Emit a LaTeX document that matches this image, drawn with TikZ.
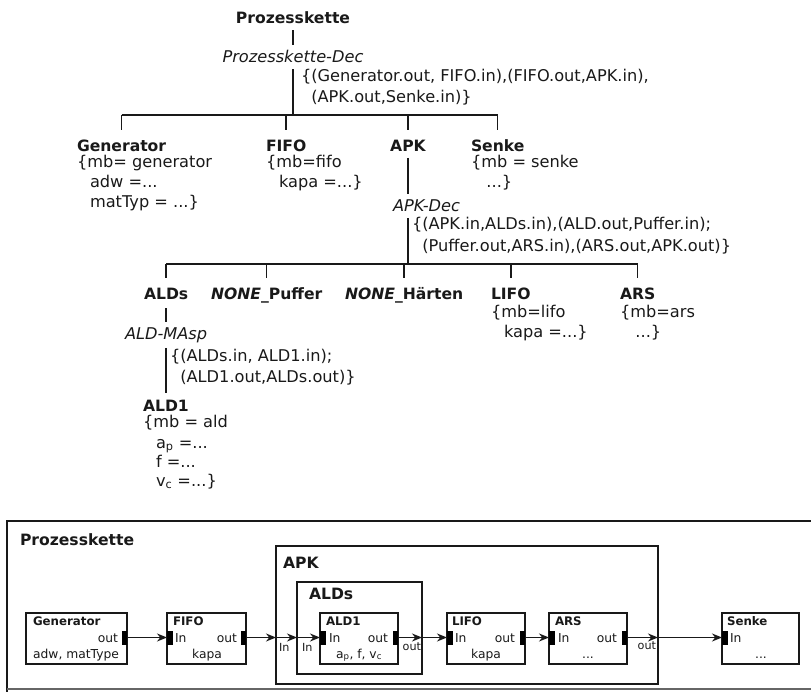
\documentclass[tikz,border=0pt]{standalone}
\usepackage{fontspec}
\setmainfont{DejaVu Sans}
\usetikzlibrary{arrows.meta}
\newcommand{\fsbig}{\fontsize{16.2}{20}\selectfont}
\newcommand{\fsbold}{\fontsize{15.6}{20}\selectfont\bfseries}
\newcommand{\fssmall}{\fontsize{12.3}{14}\selectfont}
\newcommand{\fssmallb}{\fontsize{11.8}{14}\selectfont\bfseries}
\newcommand{\fstiny}{\fontsize{11.2}{13}\selectfont}
\newcommand{\ph}{\phantom{\{}}
\tikzset{
  t/.style={anchor=base west, inner sep=0pt, outer sep=0pt, font=\fsbig, text=black!90},
  tb/.style={t, font=\fsbold},
  ti/.style={t, font=\fsbig\itshape},
  tl/.style={line width=1.5pt, black!90},
  st/.style={anchor=base west, inner sep=0pt, outer sep=0pt, font=\fssmall, text=black!90},
  stb/.style={st, font=\fssmallb},
  sx/.style={anchor=base west, inner sep=0pt, outer sep=0pt, font=\fstiny, text=black!90},
  blk/.style={draw=black!90, line width=1.7pt, inner sep=0pt, outer sep=0pt, minimum height=51pt, minimum width=78pt},
  frame/.style={draw=black!90, line width=1.7pt, inner sep=0pt, outer sep=0pt},
  port/.style={fill=black, draw=none, inner sep=0pt, outer sep=0pt, minimum width=5.5pt, minimum height=14pt},
  arr/.style={line width=1.6pt, black!90, -{Stealth[length=10pt,width=8pt]}}
}
\begin{document}
\begin{tikzpicture}[x=1pt,y=-1pt]
\useasboundingbox (0,0) rectangle (811,692);
% ---------------- tree ----------------
\node[tb, anchor=base] (root) at (293,24) {Prozesskette};
\node[ti, anchor=base] (rdec) at (293,63) {Prozesskette-Dec};
\node[t] (rc1) at (301,82) {\{(Generator.out, FIFO.in),(FIFO.out,APK.in),};
\node[t] (rc2) at (301,103) {\ph(APK.out,Senke.in)\}};
\node[tb] (gen) at (77,152) {Generator};
\node[t] (gen1) at (77,168) {\{mb= generator};
\node[t] (gen2) at (77,188) {\ph\,adw =...};
\node[t] (gen3) at (77,208) {\ph\,matTyp = ...\}};
\node[tb] (fifo) at (266,152) {FIFO};
\node[t] (fifo1) at (266,168) {\{mb=fifo};
\node[t] (fifo2) at (266,188) {\ph\,kapa =...\}};
\node[tb, anchor=base] (apk) at (408,152) {APK};
\node[tb] (senke) at (471,152) {Senke};
\node[t] (senke1) at (471,168) {\{mb = senke};
\node[t] (senke2) at (471,188) {\ph\ ...\}};
\node[ti] (apkdec) at (393,212) {APK-Dec};
\node[t] (ac1) at (412,230) {\{(APK.in,ALDs.in),(ALD.out,Puffer.in);};
\node[t] (ac2) at (412,252) {\ph(Puffer.out,ARS.in),(ARS.out,APK.out)\}};
\node[tb] (alds) at (144,300) {ALDs};
\node[tb] (np) at (211,300) {\textit{NONE}\_Puffer};
\node[tb] (nh) at (345,300) {\textit{NONE}\_Härten};
\node[tb] (lifo) at (491,300) {LIFO};
\node[t] (lifo1) at (491,318) {\{mb=lifo};
\node[t] (lifo2) at (491,338) {\ph\,kapa =...\}};
\node[tb] (ars) at (620,300) {ARS};
\node[t] (ars1) at (620,318) {\{mb=ars};
\node[t] (ars2) at (620,338) {\ph\ ...\}};
\node[ti] (aldmasp) at (125,340) {ALD-MAsp};
\node[t] (mc1) at (170,362) {\{(ALDs.in, ALD1.in);};
\node[t] (mc2) at (170,383) {\ph(ALD1.out,ALDs.out)\}};
\node[tb] (ald1) at (143,411) {ALD1};
\node[t] (ald1a) at (143,427) {\{mb = ald};
\node[t] (ald1b) at (143,448) {\ph\,a\textsubscript{p} =...};
\node[t] (ald1c) at (143,467) {\ph\,f =...};
\node[t] (ald1d) at (143,486) {\ph\,v\textsubscript{c} =...\}};
% tree lines
\coordinate (bar1) at (295,115);
\coordinate (bar2) at (408,264);
\draw[tl] ([yshift=-6pt]root.south) -- ([yshift=6pt]root.south |- rdec.north);
\draw[tl] ([yshift=-6pt]rdec.south) -- (rdec.south |- bar1);
\draw[tl] (gen.north |- bar1) -- (senke.north |- bar1);
\foreach \n in {gen,fifo,apk,senke} \draw[tl] (\n.north |- bar1) -- ++(0,15);
\draw[tl] ([yshift=-6pt]apk.south) -- ([yshift=6pt]apk.south |- apkdec.north);
\draw[tl] ([yshift=-6pt]apk.south |- apkdec.south) -- (apk.south |- bar2);
\draw[tl] (alds.north |- bar2) -- (ars.north |- bar2);
\foreach \n in {alds,np,nh,lifo,ars} \draw[tl] (\n.north |- bar2) -- ++(0,14);
\draw[tl] ([yshift=-8pt]alds.south) -- ([yshift=6pt]alds.south |- aldmasp.north);
\draw[tl] ([yshift=-4.5pt]ald1.north |- aldmasp.south) -- ([yshift=7pt]ald1.north);
% ---------------- block diagram ----------------
\draw[line width=1.6pt, black!90] (811,521) -- (7,521) -- (7,692);
\draw[line width=1.2pt, black!60] (7,689) -- (811,689);
\node[frame, minimum width=382pt, minimum height=138pt] (apkB) at (467,615) {};
\node[frame, minimum width=125pt, minimum height=92pt] (aldsB) at (359.5,628) {};
\node[tb] (pkT) at (20,545) {Prozesskette};
\node[tb] (apkT) at (283,568) {APK};
\node[tb] (aldsT) at (309,599) {ALDs};
\node[blk, minimum width=101pt] (gB) at (76.5,638.5) {};
\node[blk, minimum width=79pt] (fB) at (206.5,638.5) {};
\node[blk] (aB) at (359,638.5) {};
\node[blk] (lB) at (486,638.5) {};
\node[blk] (rB) at (588,638.5) {};
\node[blk, minimum width=77pt] (sB) at (760.5,638.5) {};
% ports
\node[port, anchor=east] (gOut) at ([yshift=1pt]gB.east) {};
\node[port, anchor=west] (fIn) at ([yshift=1pt]fB.west) {};
\node[port, anchor=east] (fOut) at ([yshift=1pt]fB.east) {};
\node[port, anchor=west] (aIn) at ([yshift=1pt]aB.west) {};
\node[port, anchor=east] (aOut) at ([yshift=1pt]aB.east) {};
\node[port, anchor=west] (lIn) at ([yshift=1pt]lB.west) {};
\node[port, anchor=east] (lOut) at ([yshift=1pt]lB.east) {};
\node[port, anchor=west] (rIn) at ([yshift=1pt]rB.west) {};
\node[port, anchor=east] (rOut) at ([yshift=1pt]rB.east) {};
\node[port, anchor=west] (sIn) at ([yshift=1pt]sB.west) {};
% box texts
\node[stb] (gT) at (33,625) {Generator};
\node[st, anchor=base east] (gO) at (118,642) {out};
\node[st, anchor=base] (gP) at (76,658) {adw, matType};
\node[stb] (fT) at (173,625) {FIFO};
\node[st] (fI) at (175,642) {In};
\node[st, anchor=base east] (fO) at (237,642) {out};
\node[st, anchor=base] (fP) at (207,658) {kapa};
\node[stb] (aT) at (326,625) {ALD1};
\node[st] (aI) at (329,642) {In};
\node[st, anchor=base east] (aO) at (388,642) {out};
\node[st, anchor=base] (aP) at (359,658) {a\textsubscript{p}, f, v\textsubscript{c}};
\node[stb] (lT) at (452,625) {LIFO};
\node[st] (lI) at (455,642) {In};
\node[st, anchor=base east] (lO) at (515,642) {out};
\node[st, anchor=base] (lP) at (486,658) {kapa};
\node[stb] (rT) at (555,625) {ARS};
\node[st] (rI) at (558,642) {In};
\node[st, anchor=base east] (rO) at (617,642) {out};
\node[st, anchor=base] (rP) at (588,658) {...};
\node[stb] (sT) at (727,625) {Senke};
\node[st] (sI) at (730,642) {In};
\node[st, anchor=base] (sP) at (761,658) {...};
% boundary labels
\node[sx] (apkIn) at (279,651) {In};
\node[sx] (aldsIn) at (302,651) {In};
\node[sx, anchor=base east] (aldsOut) at (421,650) {out};
\node[sx, anchor=base east] (apkOut) at (656,649) {out};
% arrows
\draw[arr] (gOut.east) -- (fIn.west);
\draw[arr] (fOut.east) -- (fOut.east -| apkB.west);
\draw[arr] (fOut.east -| apkB.west) -- (fOut.east -| aldsB.west);
\draw[arr] (fOut.east -| aldsB.west) -- (aIn.west);
\draw[arr] (aOut.east) -- (aOut.east -| aldsB.east);
\draw[arr] (aOut.east -| aldsB.east) -- (lIn.west);
\draw[arr] (lOut.east) -- (rIn.west);
\draw[arr] (rOut.east) -- (rOut.east -| apkB.east);
\draw[arr] (rOut.east -| apkB.east) -- (sIn.west);
\end{tikzpicture}
\end{document}
